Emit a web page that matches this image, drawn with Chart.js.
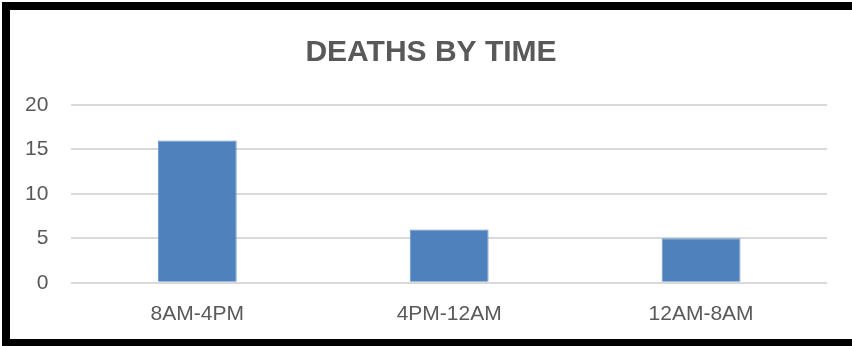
<!DOCTYPE html>
<html>
<head>
<meta charset="utf-8">
<script src="https://cdn.jsdelivr.net/npm/chart.js@4/dist/chart.umd.min.js"></script>
<style>
  html, body { margin: 0; padding: 0; background: #fff; width: 852px; height: 346px; overflow: hidden; position: relative; }
  #frame { position: absolute; left: 2px; top: 2px; width: 850px; height: 345px; border-top: 8px solid #000; border-left: 8px solid #000; border-bottom: 8px solid #000; border-right: none; box-sizing: border-box; }
  #wrap { position: absolute; left: 0; top: 0; width: 852px; height: 346px; }
</style>
</head>
<body>
<div id="frame"></div>
<div id="wrap"><canvas id="c" width="852" height="346"></canvas></div>
<script>
const categories = ["8AM-4PM", "4PM-12AM", "12AM-8AM"];
const deaths = [16, 6, 5];
const chartTitle = "DEATHS BY TIME";

const centerTitle = {
  id: 'centerTitle',
  afterLayout(chart) {
    if (chart.titleBlock) { chart.titleBlock.left = 10; chart.titleBlock.right = 852; }
  }
};

new Chart(document.getElementById('c'), {
  type: 'bar',
  data: {
    labels: categories,
    datasets: [{
      label: 'Deaths',
      data: deaths,
      backgroundColor: '#4F81BD',
      borderColor: '#6A95C9',
      borderWidth: 1,
      categoryPercentage: 1,
      barPercentage: 0.313
    }]
  },
  plugins: [centerTitle],
  options: {
    responsive: false,
    animation: false,
    layout: { padding: { left: 2, right: 25, top: 35, bottom: 0 } },
    plugins: {
      legend: { display: false },
      tooltip: { enabled: false },
      title: {
        display: true,
        text: chartTitle,
        color: '#595959',
        font: { family: 'Liberation Sans', size: 30, weight: 'bold' },
        padding: { top: 0, bottom: 34 }
      }
    },
    scales: {
      x: {
        grid: { display: false, drawTicks: false },
        border: { display: false },
        ticks: { color: '#595959', font: { family: 'Liberation Sans', size: 21 }, padding: 19 }
      },
      y: {
        min: 0, max: 20,
        ticks: { stepSize: 5, color: '#595959', font: { family: 'Liberation Sans', size: 21 }, padding: 23 },
        grid: { color: '#D9D9D9', lineWidth: 2, drawTicks: false },
        border: { display: false }
      }
    }
  }
});
</script>
</body>
</html>
